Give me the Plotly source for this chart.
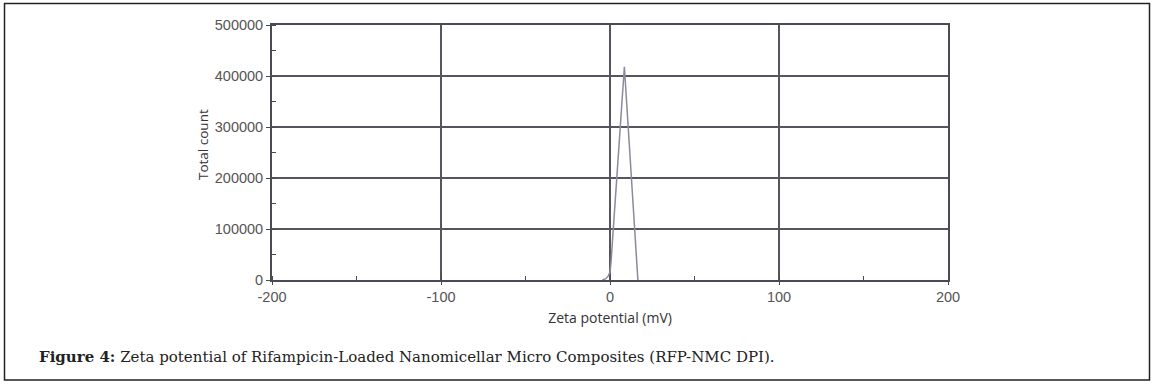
import plotly.graph_objects as go

# Data
zeta_mv = [-4.5, -2.5, -1.0, 0.0, 0.5, 8.5, 16.5]
total_count = [0, 2500, 8000, 16000, 30000, 418000, 0]

x_ticks = [-200, -100, 0, 100, 200]
y_ticks = [0, 100000, 200000, 300000, 400000, 500000]

x_title = "Zeta potential (mV)"
y_title = "Total count"
caption_bold = "Figure 4:"
caption_text = " Zeta potential of Rifampicin-Loaded Nanomicellar Micro Composites (RFP-NMC DPI)."

W, H = 1154, 386
L, R, T, B = 272, 948, 25, 280

fig = go.Figure()
fig.add_trace(go.Scatter(
    x=zeta_mv, y=total_count, mode="lines",
    line=dict(color="#8a8a9e", width=1.5),
    showlegend=False, hoverinfo="skip",
))

axis_font = dict(family="Liberation Sans, Arial, sans-serif", size=14.5, color="#555555")
title_font_family = "Open Sans, Liberation Sans, sans-serif"
fig.update_layout(
    width=W, height=H,
    margin=dict(l=L, r=W - R, t=T, b=H - B),
    paper_bgcolor="white", plot_bgcolor="white",
    xaxis=dict(
        range=[-200, 200], tickvals=x_ticks, ticktext=[str(v) for v in x_ticks],
        showgrid=True, gridcolor="#55555d", gridwidth=1.6,
        zeroline=False, showline=True, linecolor="#4a4a52", linewidth=1.8, mirror=True,
        ticks="outside", ticklen=3, tickcolor="#4a4a52",
        minor=dict(dtick=50, tick0=-200, ticks="inside", ticklen=4, tickcolor="#4a4a52", showgrid=False),
        tickfont=axis_font,
        title=dict(text=x_title, standoff=9,
                   font=dict(family=title_font_family, size=14, color="#333333")),
    ),
    yaxis=dict(
        range=[0, 500000], tickvals=y_ticks, ticktext=[str(v) for v in y_ticks],
        showgrid=True, gridcolor="#55555d", gridwidth=1.6,
        zeroline=False, showline=True, linecolor="#4a4a52", linewidth=1.8, mirror=True,
        ticks="outside", ticklen=4, tickcolor="#4a4a52",
        minor=dict(dtick=50000, tick0=0, ticks="inside", ticklen=4, tickcolor="#4a4a52", showgrid=False),
        tickfont=axis_font,
    ),
)

def px_x(p):
    return (p - L) / (R - L)

def px_y(p):
    return (B - p) / (B - T)

fig.add_annotation(
    xref="paper", yref="paper", x=px_x(203), y=px_y(145),
    xanchor="center", yanchor="middle", showarrow=False, textangle=-90,
    text=y_title,
    font=dict(family=title_font_family, size=13.5, color="#333333"),
)

fig.add_annotation(
    xref="paper", yref="paper", x=px_x(37), y=px_y(357),
    xanchor="left", yanchor="middle", showarrow=False,
    text="<b>" + caption_bold + "</b>" + caption_text,
    font=dict(family="DejaVu Serif, Liberation Serif, serif", size=15, color="#222222"),
)

fig.add_shape(
    type="rect", xref="paper", yref="paper",
    x0=px_x(4.5), x1=px_x(1149.5), y0=px_y(380), y1=px_y(3.5),
    line=dict(color="#222222", width=1.5), layer="above",
)

fig.write_html(
    "out.html",
    config={"displayModeBar": False},
    post_script="document.body.style.margin='0';document.body.style.overflow='hidden';",
)
